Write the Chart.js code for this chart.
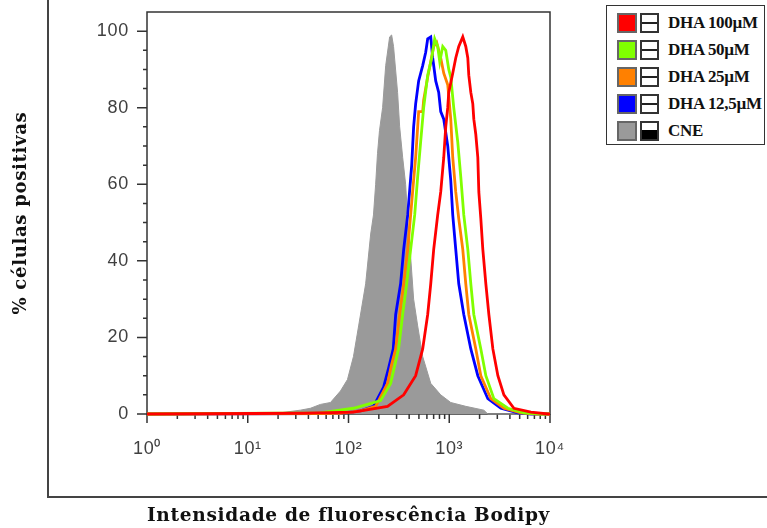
<!DOCTYPE html>
<html><head><meta charset="utf-8">
<script src="https://cdn.jsdelivr.net/npm/chart.js@4.4.1/dist/chart.umd.min.js"></script>
<style>
html,body{margin:0;padding:0;background:#fff;}
#wrap{position:relative;width:767px;height:528px;overflow:hidden;}
#c{position:absolute;left:0;top:0;}
#legend{position:absolute;left:606px;top:5px;width:159px;height:140px;border:1px solid #333;box-sizing:border-box;font-family:"Liberation Serif","Times New Roman",serif;font-weight:bold;font-size:17px;color:#111;background:#fff;}
.row{position:absolute;left:10px;height:20px;display:flex;align-items:center;}
.sw{width:16px;height:16px;border:2px solid #666;}
.ic{width:15px;height:16px;border:2px solid #333;margin-left:3px;}
.lbl{margin-left:9px;white-space:nowrap;letter-spacing:-0.3px;}
</style></head>
<body>
<div id="wrap">
<canvas id="c" width="767" height="528"></canvas>
<div id="legend"></div>
</div>
<script>
// ---- data ----
const seriesNames = ['DHA 100µM', 'DHA 50µM', 'DHA 25µM', 'DHA 12,5µM', 'CNE'];

const dha100X = [1, 35.7, 112, 244, 353, 464, 545, 611, 655, 701, 768, 823, 882, 923, 966, 989, 1083, 1160, 1243, 1362, 1459, 1528, 1563, 1637, 1713, 1753, 1835, 1921, 1966, 2058, 2154, 2308, 2472, 2709, 3038, 3486, 4384, 6470, 9553, 10000];
const dha100Y = [0, 0.2, 0.5, 2, 5, 10, 17, 26, 34, 43, 52, 58, 67, 75, 80, 84, 89, 93, 96, 98.5, 96, 93, 88.5, 84, 81, 77, 73, 67, 58, 51, 43, 34, 26, 17, 10, 5, 1.5, 0.5, 0, 0];

const dha50X = [1, 52.6, 112, 208, 262, 314, 345, 378, 414, 454, 486, 520, 557, 611, 670, 717, 768, 805, 862, 923, 989, 1035, 1108, 1215, 1301, 1394, 1528, 1637, 1753, 2058, 2308, 2772, 3821, 5511, 8135, 10000];
const dha50Y = [0, 0.3, 1.5, 3.5, 8, 17, 26, 34, 43, 52, 62, 71, 80, 88.5, 93, 98, 96, 92, 96, 95, 90, 88, 80, 71, 62, 52, 43, 34, 26, 17, 10, 4, 1.5, 0.3, 0, 0];

const dha25X = [1, 52.6, 83.2, 132, 186, 244, 268, 294, 322, 353, 387, 414, 433, 464, 486, 497, 545, 557, 611, 655, 701, 751, 823, 882, 966, 989, 1035, 1083, 1160, 1243, 1362, 1459, 1563, 1835, 2058, 2588, 3486, 5146, 7257, 10000];
const dha25Y = [0, 0.1, 0.2, 0.8, 2, 8, 13, 17, 26, 34, 43, 52, 58, 67, 75, 79, 79, 82, 88, 92, 96, 97, 93, 89, 86, 83, 77, 67, 58, 51, 43, 34, 26, 17, 10, 4, 1.5, 0.3, 0, 0];

const dha12X = [1, 52.6, 83.2, 132, 177, 223, 250, 278, 294, 329, 353, 387, 424, 443, 464, 497, 545, 584, 611, 655, 685, 734, 786, 823, 882, 966, 1035, 1083, 1160, 1243, 1394, 1637, 1921, 2416, 3254, 4804, 6470, 10000];
const dha12Y = [0, 0.1, 0.2, 0.8, 2, 7, 12, 17, 26, 34, 43, 52, 65, 75, 81, 87, 91, 94.5, 98, 98.5, 93, 87, 84, 79, 77, 70, 61, 52, 43, 34, 26, 17, 10, 4, 1.5, 0.3, 0, 0];

const cneX = [1, 21, 33.3, 41.9, 52.6, 66.2, 83.2, 97.7, 112, 126, 148, 166, 177, 186, 194, 203, 218, 234, 256, 268, 280, 307, 322, 345, 369, 387, 414, 443, 486, 545, 655, 823, 1035, 1459, 2204, 2416, 10000];
const cneY = [0, 0.3, 1, 1.5, 2.5, 3, 6, 9, 15, 23, 34, 47, 52, 60, 68, 74, 80, 91, 98.5, 99, 96, 84, 75, 67, 60, 51, 41, 30, 23, 15, 8, 5, 3, 2, 1, 0, 0];

const xTickValues = [1, 10, 100, 1000, 10000];
const xTickLabels = ['10⁰', '10¹', '10²', '10³', '10⁴'];
const yTickValues = [0, 20, 40, 60, 80, 100];
const yTickLabels = ['0', '20', '40', '60', '80', '100'];

const xTitle = 'Intensidade de fluorescência Bodipy';
const yTitle = '% células positivas';

// ---- styles ----
const colors = ['#ff0000', '#80ff00', '#ff8000', '#0000ff', '#9a9a9a'];
const pts = (xs, ys) => xs.map((x, i) => ({x: x, y: ys[i]}));
const seriesData = [pts(dha100X, dha100Y), pts(dha50X, dha50Y), pts(dha25X, dha25Y), pts(dha12X, dha12Y), pts(cneX, cneY)];

const datasets = seriesData.map((d, i) => {
  const isCne = i === 4;
  return {
    label: seriesNames[i],
    data: d,
    borderColor: colors[i],
    backgroundColor: colors[i],
    borderWidth: isCne ? 1 : 2.8,
    fill: isCne ? 'origin' : false,
    pointRadius: 0,
    tension: 0,
    clip: 3
  };
});

const framePlugin = {
  id: 'frame',
  beforeDraw(chart) {
    const c = chart.ctx;
    c.save();
    c.strokeStyle = '#444';
    c.lineWidth = 2;
    c.beginPath();
    c.moveTo(48, 0);
    c.lineTo(48, 497);
    c.lineTo(767, 497);
    c.stroke();
    c.restore();
    c.letterSpacing = '0.7px';
  },
  beforeDatasetsDraw(chart) {
    const c = chart.ctx, a = chart.chartArea;
    const xs = chart.scales.x, ys = chart.scales.y;
    c.save();
    c.strokeStyle = '#333';
    c.lineWidth = 1.5;
    c.strokeRect(a.left, a.top, a.right - a.left, a.bottom - a.top);
    c.beginPath();
    for (let e = 0; e <= 4; e++) {
      const p = xs.getPixelForValue(Math.pow(10, e));
      c.moveTo(p, a.bottom); c.lineTo(p, a.bottom + 9);
      if (e < 4) {
        for (let m = 2; m <= 9; m++) {
          const q = xs.getPixelForValue(m * Math.pow(10, e));
          c.moveTo(q, a.bottom); c.lineTo(q, a.bottom + 5);
        }
      }
    }
    for (let v = 0; v <= 100; v += 5) {
      const p = ys.getPixelForValue(v);
      const len = (v % 20 === 0) ? 10 : 4;
      c.moveTo(a.left, p); c.lineTo(a.left - len, p);
    }
    c.stroke();
    c.restore();
  },
  afterDraw(chart) {
    chart.ctx.letterSpacing = '0px';
  }
};

new Chart(document.getElementById('c'), {
  type: 'line',
  data: {datasets: datasets},
  options: {
    responsive: false,
    animation: false,
    layout: {padding: {left: 0, top: 12, right: 217, bottom: 0}},
    plugins: {legend: {display: false}, tooltip: {enabled: false}},
    scales: {
      x: {
        type: 'logarithmic', min: 1, max: 10000,
        afterBuildTicks: s => { s.ticks = xTickValues.map(v => ({value: v, major: true})); },
        afterFit: s => { s.height = 114; s.paddingLeft = 0; s.paddingRight = 0; },
        grid: {display: false, drawTicks: false},
        border: {display: false},
        ticks: {
          callback: (v, i) => xTickLabels[i],
          font: {family: 'Liberation Sans', size: 18},
          color: '#404040', padding: 24, maxRotation: 0, autoSkip: false
        },
        title: {
          display: true, text: xTitle, color: '#111',
          font: {family: 'DejaVu Serif', weight: 'bold', size: 19},
          padding: {top: 0, bottom: 1}
        }
      },
      y: {
        min: 0, max: 105,
        afterBuildTicks: s => { s.ticks = yTickValues.map(v => ({value: v})); },
        afterFit: s => { s.width = 147; s.paddingTop = 0; s.paddingBottom = 0; },
        grid: {display: false, drawTicks: false},
        border: {display: false},
        ticks: {
          callback: (v, i) => yTickLabels[i],
          font: {family: 'Liberation Sans', size: 18},
          color: '#404040', padding: 18, autoSkip: false
        },
        title: {
          display: true, text: yTitle, color: '#111',
          font: {family: 'DejaVu Serif', weight: 'bold', size: 18},
          padding: {top: 11, bottom: 0}
        }
      }
    }
  },
  plugins: [framePlugin]
});

// legend (HTML, built from the series names and colours)
const leg = document.getElementById('legend');
seriesNames.forEach((name, i) => {
  const row = document.createElement('div');
  row.className = 'row';
  row.style.top = (7 + i * 27) + 'px';
  const sw = document.createElement('div');
  sw.className = 'sw';
  sw.style.background = colors[i];
  const ic = document.createElement('div');
  ic.className = 'ic';
  ic.style.background = i === 4
    ? 'linear-gradient(#fff 0, #fff 7px, #000 7px, #000 100%)'
    : 'linear-gradient(#fff 0, #fff 7px, #222 7px, #222 9px, #fff 9px)';
  const lb = document.createElement('span');
  lb.className = 'lbl';
  lb.textContent = name;
  row.appendChild(sw); row.appendChild(ic); row.appendChild(lb);
  leg.appendChild(row);
});
</script>
</body></html>
